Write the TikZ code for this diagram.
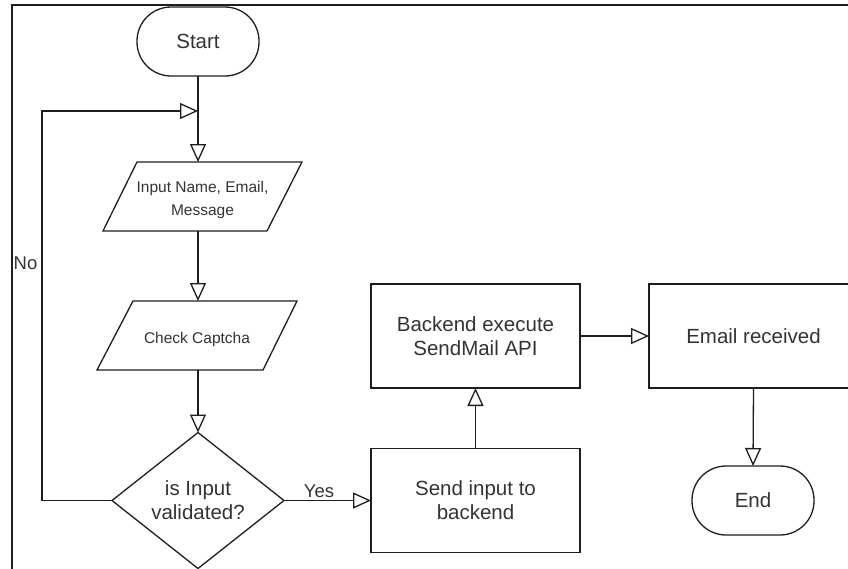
\documentclass[tikz,border=0pt]{standalone}
\usepackage{fontspec}
\setmainfont{Liberation Sans}
\usetikzlibrary{arrows.meta,shapes.geometric}
\definecolor{ink}{HTML}{1E1E1E}
\definecolor{txt}{HTML}{333333}
\tikzset{
  every node/.style={text=txt, inner sep=0pt, outer sep=0pt},
  bigtext/.style={font=\fontsize{20.5}{24}\selectfont, align=center},
  smalltext/.style={font=\fontsize{15.5}{23.5}\selectfont, align=center, text=txt},
  terminal/.style={bigtext, draw=ink, line width=1.3pt, rectangle,
    rounded corners=34pt, minimum width=122pt, minimum height=69pt},
  procbox/.style={bigtext, draw=ink, line width=1.3pt, rectangle,
    minimum width=209pt, minimum height=104pt},
  iobox/.style={rectangle, minimum height=69pt},
  iotext/.style={label={[smalltext, yshift=-3.5pt]center:#1}},
  decision/.style={bigtext, draw=ink, line width=1.3pt, diamond,
    aspect=1.265, minimum width=172pt, minimum height=136pt},
  flow/.style={draw=ink, line width=1.3pt,
    -{Triangle[open, length=18pt, width=16pt, line width=1.3pt]}},
  edgelabel/.style={font=\fontsize{18.5}{22}\selectfont},
}
\begin{document}
\begin{tikzpicture}[x=1pt, y=-1pt]
  \useasboundingbox (0,0) rectangle (848,568);
  \clip (0,0) rectangle (848,568);

  % page frame
  \draw[ink, line width=1.7pt] (12,5) rectangle (880,600);

  % nodes
  \node[terminal] (start) at (198,41.5) {Start};
  \node[iobox, minimum width=199pt,
    iotext={Input Name, Email,\\Message}] (in1) at (202.5,196.5) {};
  \node[iobox, minimum width=200pt,
    iotext={Check Captcha}] (in2) at (197,335.5) {};
  \node[decision] (dec) at (198,500.5) {is Input\\validated?};
  \node[procbox] (send) at (475.5,500.5) {Send input to\\backend};
  \node[procbox] (api) at (475.5,336) {Backend execute\\SendMail API};
  \node[procbox] (mail) at (753.5,336) {Email received};
  \node[terminal] (end) at (753,500.5) {End};

  % input/output parallelograms
  \draw[ink, line width=1.3pt] ([xshift=34pt]in1.north west) -- (in1.north east)
    -- ([xshift=-35pt]in1.south east) -- (in1.south west) -- cycle;
  \draw[ink, line width=1.3pt] ([xshift=36pt]in2.north west) -- (in2.north east)
    -- ([xshift=-34pt]in2.south east) -- (in2.south west) -- cycle;

  % loop-back corner points
  \coordinate (loopcorner) at (42,111);
  \coordinate (loopjoin) at (198,111);

  % connectors
  \draw[flow] (start.south) -- (start.south |- in1.north);
  \draw[flow] (in1.south -| start.south) -- (in2.north -| start.south);
  \draw[flow] (in2.south -| dec.north) -- (dec.north);
  \draw[flow] (dec.west) -- (dec.west -| loopcorner) -- (loopcorner) -- (loopjoin);
  \draw[flow] (dec.east) -- (send.west);
  \draw[flow] (send.north) -- (api.south);
  \draw[flow] (api.east) -- (mail.west);
  \draw[flow] (mail.south) -- (end.north);

  % branch labels
  \node[edgelabel] (nolabel) at (25.5,263) {No};
  \node[edgelabel] (yeslabel) at (319,491) {Yes};
\end{tikzpicture}
\end{document}
